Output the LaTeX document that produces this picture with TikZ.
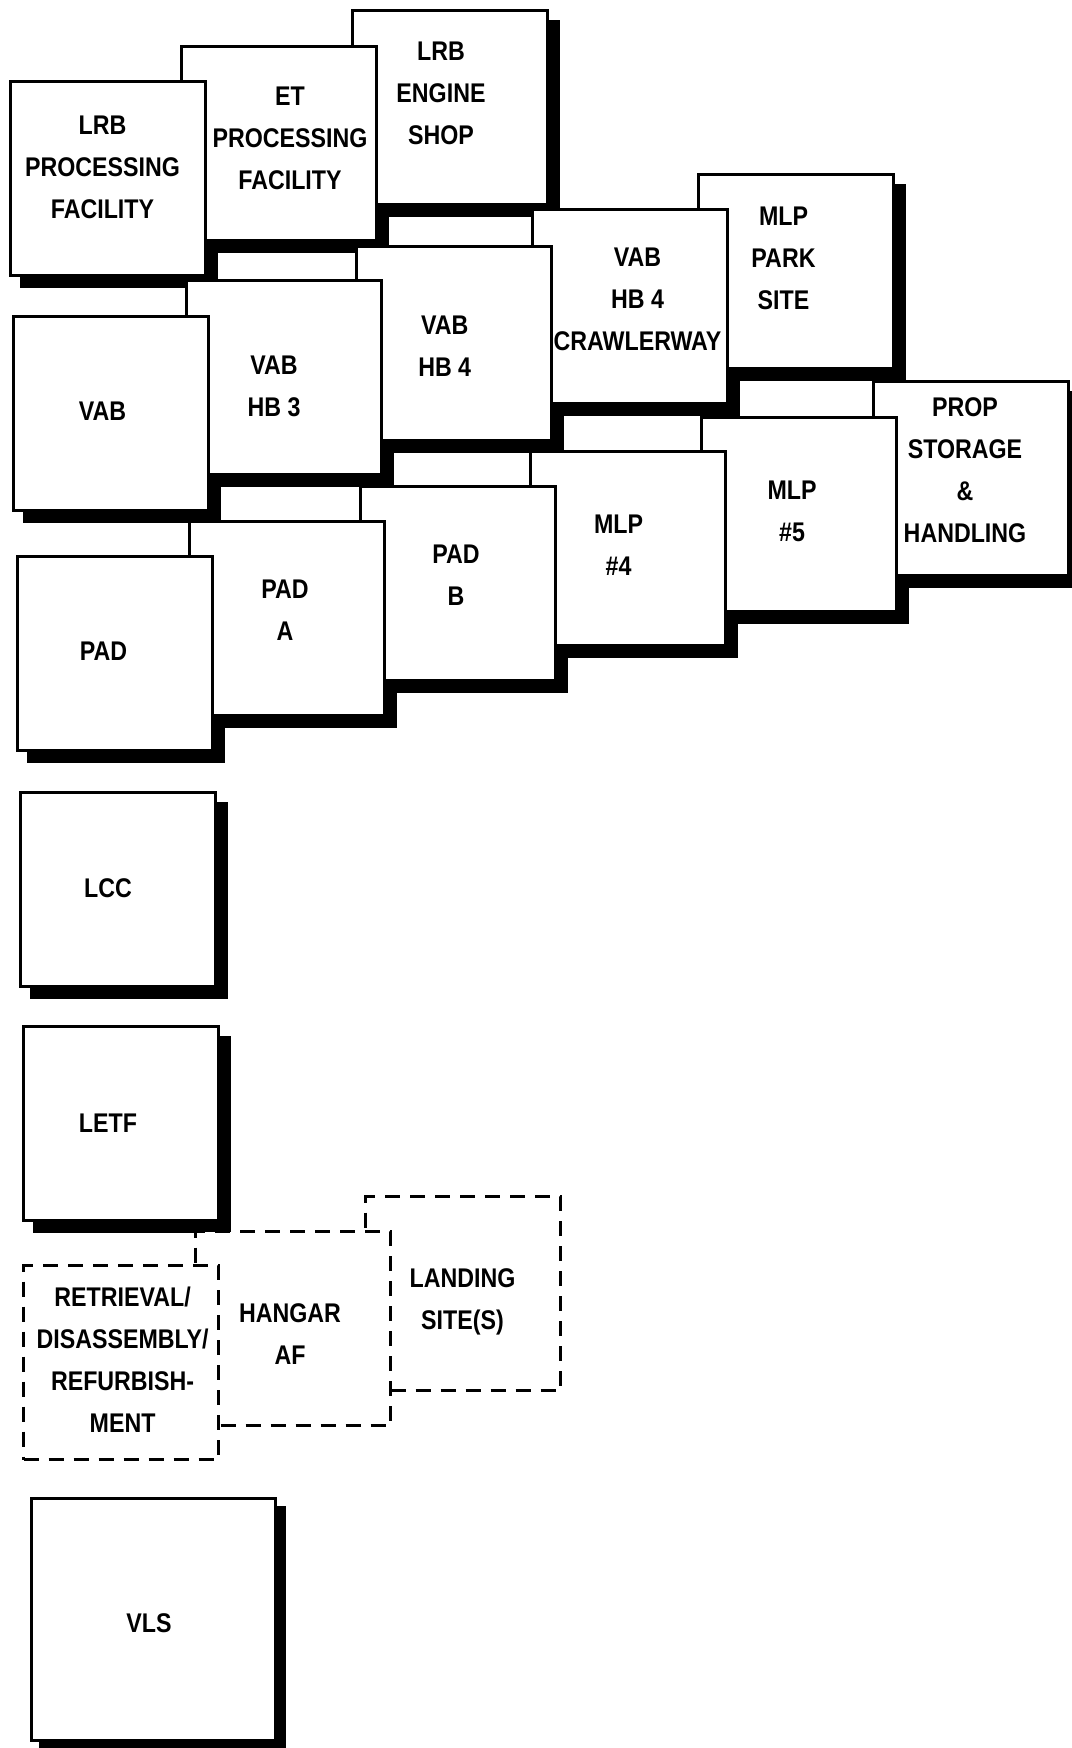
\documentclass[tikz,border=0pt]{standalone}
\usepackage{fontspec}
\setmainfont{Liberation Sans}[FakeStretch=0.86]
\pgfdeclarelayer{background}
\pgfsetlayers{background,main}
\tikzset{
  box/.style={draw=black, line width=3.2pt, fill=white, anchor=north west, inner sep=0pt,
    minimum width=195pt, minimum height=194pt},
  dbox/.style={draw=black, line width=3.4pt, fill=white, anchor=north west, inner sep=0pt,
    minimum width=195pt, minimum height=194pt, dash pattern=on 15pt off 10pt},
  lbl/.style={font=\fontsize{27}{42}\selectfont\bfseries, align=center, inner sep=0pt},
  shade/.style={fill=black}
}
\begin{document}
\begin{tikzpicture}[x=1pt,y=-1pt]
\path[use as bounding box] (0,0) rectangle (1071,1748);
% row 3 (back to front)
\node[box] (prop) at (872,380) {};
\node[box] (mlp5) at (700,416) {};
\node[box] (mlp4) at (529,450) {};
\node[box] (padb) at (359,485) {};
\node[box] (pada) at (188,520) {};
\node[box] (pad) at (16,555) {};
% row 2
\node[box] (mlppark) at (697,173) {};
\node[box] (crawler) at (531,208) {};
\node[box] (hb4) at (355,245) {};
\node[box] (hb3) at (185,279) {};
\node[box] (vab) at (12,315) {};
% row 1
\node[box] (engine) at (351,9) {};
\node[box] (et) at (180,45) {};
\node[box] (lrbpf) at (9,80) {};
% single column
\node[box] (lcc) at (19,791) {};
\node[box] (letf) at (22,1025) {};
\node[dbox] (landing) at (364,1195) {};
\node[dbox] (hangar) at (194,1230) {};
\node[dbox] (retr) at (22,1264) {};
\node[box, minimum width=244pt, minimum height=242pt] (vls) at (30,1497) {};
% shadows, all behind every box
\begin{pgfonlayer}{background}
\fill[white] (0,0) rectangle (1071,1748);
\foreach \n in {prop,mlp5,mlp4,padb,pada,pad,mlppark,crawler,hb4,hb3,vab,engine,et,lrbpf,lcc,letf}
  \fill[shade] ([xshift=11pt,yshift=-11pt]\n.north west) rectangle ([xshift=11pt,yshift=-11pt]\n.south east);
\fill[shade] ([xshift=9pt,yshift=-9pt]vls.north west) rectangle ([xshift=9pt,yshift=-9pt]vls.south east);
\end{pgfonlayer}
% labels
\node[lbl] (tlrbpf) at (102.5,167.8) {LRB\\PROCESSING\\FACILITY};
\node[lbl] (tet) at (290,138.8) {ET\\PROCESSING\\FACILITY};
\node[lbl] (tengine) at (441,93.7) {LRB\\ENGINE\\SHOP};
\node[lbl] (tcrawler) at (637.5,299) {VAB\\HB 4\\CRAWLERWAY};
\node[lbl] (tmlppark) at (783.5,258.5) {MLP\\PARK\\SITE};
\node[lbl] (tvab) at (102.5,411) {VAB};
\node[lbl] (thb3) at (274,386.8) {VAB\\HB 3};
\node[lbl] (thb4) at (444.7,346) {VAB\\HB 4};
\node[lbl] (tpad) at (103.6,651) {PAD};
\node[lbl] (tpada) at (285,610) {PAD\\A};
\node[lbl] (tpadb) at (456,575) {PAD\\B};
\node[lbl] (tmlp4) at (618.5,545.5) {MLP\\\#4};
\node[lbl] (tmlp5) at (792,511) {MLP\\\#5};
\node[lbl] (tprop) at (965,470) {PROP\\STORAGE\\\&\\HANDLING};
\node[lbl] (tlcc) at (108,888) {LCC};
\node[lbl] (tletf) at (108,1123) {LETF};
\node[lbl] (tretr) at (122.6,1360) {RETRIEVAL/\\DISASSEMBLY/\\REFURBISH-\\MENT};
\node[lbl] (thangar) at (290,1334) {HANGAR\\AF};
\node[lbl] (tlanding) at (462.5,1302) {LANDING\\SITE(S)};
\node[lbl] (tvls) at (149,1623) {VLS};
\end{tikzpicture}
\end{document}
